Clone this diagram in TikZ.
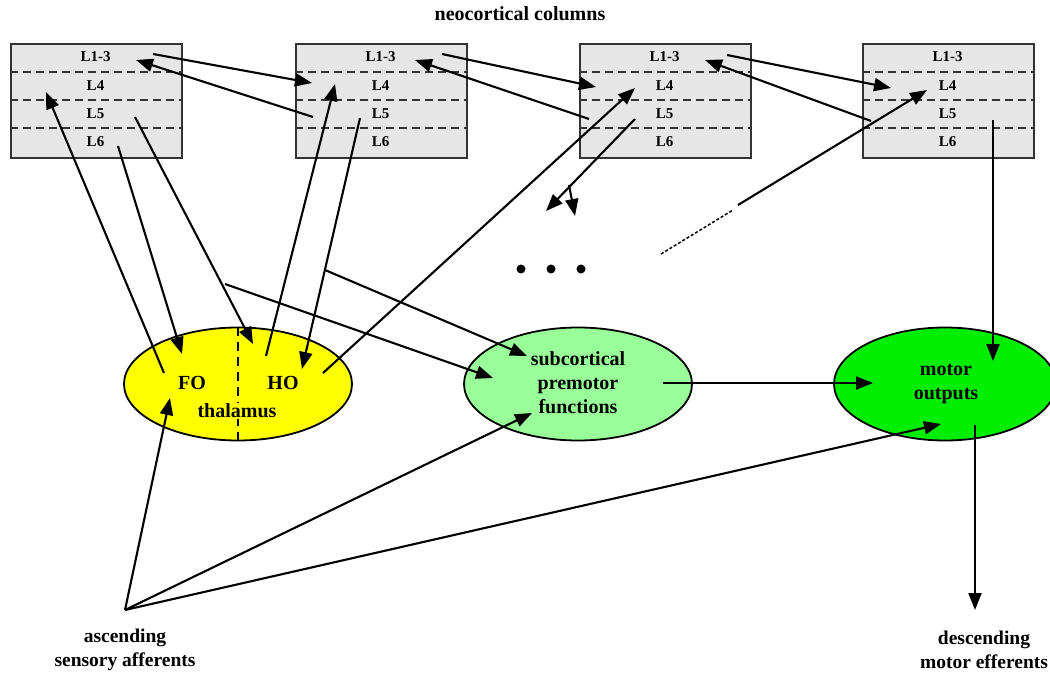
\documentclass[tikz,border=0pt]{standalone}
\usepackage{fontspec}
\setmainfont{Liberation Serif}
\usetikzlibrary{arrows.meta,shapes.geometric}
\definecolor{boxgray}{HTML}{E6E6E6}
\definecolor{thyellow}{HTML}{FFFF00}
\definecolor{subgreen}{HTML}{99FF99}
\definecolor{motgreen}{HTML}{00EE00}
\begin{document}
\begin{tikzpicture}[x=1pt,y=-1pt,
  colbox/.style={draw=black!80,line width=2.2pt,fill=boxgray,minimum width=171pt,minimum height=114pt,inner sep=0pt,anchor=north west},
  layerline/.style={draw=black!80,line width=1.5pt,dash pattern=on 8pt off 5pt},
  lab/.style={font=\bfseries\fontsize{15}{16}\selectfont},
  big/.style={font=\bfseries\fontsize{20}{24}\selectfont,align=center},
  foot/.style={font=\bfseries\fontsize{19.5}{24}\selectfont,align=center},
  oval/.style={ellipse,draw=black,line width=1.8pt,minimum width=228pt,minimum height=113pt,inner sep=0pt},
  con/.style={line width=2.1pt,-{Triangle[length=17pt,width=13pt]}},
  plain/.style={line width=2.1pt}]
\useasboundingbox (0,0) rectangle (1050,674);

\node[font=\bfseries\fontsize{20}{24}\selectfont] (title) at (520,14) {neocortical columns};

\foreach \n/\x in {1/10,2/295,3/579,4/862}{
  \node[colbox] (c\n) at (\x,43) {};
  \draw[layerline] (\x,72) -- ++(171,0);
  \draw[layerline] (\x,100) -- ++(171,0);
  \draw[layerline] (\x,128) -- ++(171,0);
  \node[lab] (c\n l1) at (\x+85.5,57) {L1-3};
  \node[lab] (c\n l4) at (\x+85.5,86) {L4};
  \node[lab] (c\n l5) at (\x+85.5,114) {L5};
  \node[lab] (c\n l6) at (\x+85.5,142) {L6};
}

% ellipses
\node[oval,fill=thyellow] (th) at (238,384) {};
\draw[line width=1.5pt,dash pattern=on 9pt off 6pt] (th.north) -- (th.south);
\node[big] (fo) at (192,383) {FO};
\node[big] (ho) at (283,383) {HO};
\node[big,fill=thyellow,inner sep=1pt] (thl) at (237,411) {thalamus};

\node[oval,fill=subgreen] (sub) at (578,384) {};
\node[big,align=center] (subl) at (578,383) {subcortical\\premotor\\functions};

\node[oval,fill=motgreen,minimum width=222pt] (mot) at (945,384) {};
\node[big] (motl) at (946,384) {motor\\outputs};

% dots
\foreach \i/\x in {1/521,2/551,3/581}{\fill (\x,269) circle (4.5pt) coordinate (dot\i);}

% coordinates
\coordinate (a1) at (164,373);  \coordinate (b1) at (46,92);
\coordinate (a2) at (118,146);  \coordinate (b2) at (182,354);
\coordinate (a3) at (135,117);  \coordinate (b3) at (253,344);
\coordinate (a4) at (266,356);  \coordinate (b4) at (335,84);
\coordinate (a5) at (360,118);  \coordinate (b5) at (302,369);
\coordinate (a6) at (153,54);   \coordinate (b6) at (312,83);
\coordinate (a7) at (313,117);  \coordinate (b7) at (136,60);
\coordinate (a8) at (442,54);   \coordinate (b8) at (596,87);
\coordinate (a9) at (589,119);  \coordinate (b9) at (415,60);
\coordinate (a10) at (323,373); \coordinate (b10) at (635,88);
\coordinate (a11) at (635,119); \coordinate (br11) at (569,185);
\coordinate (b11) at (546,211); \coordinate (b11b) at (575,216);
\coordinate (a12) at (727,55);  \coordinate (b12) at (891,88);
\coordinate (a13) at (871,121); \coordinate (b13) at (705,60);
\coordinate (d1) at (661,254);  \coordinate (d2) at (733,210);
\coordinate (a14) at (738,205); \coordinate (b14) at (927,90);
\coordinate (a15) at (993,120); \coordinate (b15) at (993,361);
\coordinate (a16) at (225,284); \coordinate (b16) at (493,378);
\coordinate (a17) at (325,270); \coordinate (b17) at (527,356);
\coordinate (a18) at (663,383); \coordinate (b18) at (873,383);
\coordinate (asc) at (125,610);
\coordinate (b19) at (170,398); \coordinate (b20) at (532,413); \coordinate (b21) at (941,424);
\coordinate (a22) at (975,425); \coordinate (b22) at (975,610);

\draw[con] (a1) -- (b1);
\draw[con] (a2) -- (b2);
\draw[con] (a3) -- (b3);
\draw[con] (a4) -- (b4);
\draw[con] (a5) -- (b5);
\draw[con] (a6) -- (b6);
\draw[con] (a7) -- (b7);
\draw[con] (a8) -- (b8);
\draw[con] (a9) -- (b9);
\draw[con] (a10) -- (b10);
\draw[con] (a11) -- (b11);
\draw[con] (br11) -- (b11b);
\draw[con] (a12) -- (b12);
\draw[con] (a13) -- (b13);
\draw[line width=1.5pt,dash pattern=on 3pt off 2pt] (d1) -- (d2);
\draw[con] (a14) -- (b14);
\draw[con] (a15) -- (b15);
\draw[con] (a16) -- (b16);
\draw[con] (a17) -- (b17);
\draw[con] (a18) -- (b18);
\draw[con] (asc) -- (b19);
\draw[con] (asc) -- (b20);
\draw[con] (asc) -- (b21);
\draw[con] (a22) -- (b22);

\node[foot] (ascl) at (125,650) {ascending\\sensory afferents};
\node[foot] (desl) at (984,650) {descending\\motor efferents};
\end{tikzpicture}
\end{document}
